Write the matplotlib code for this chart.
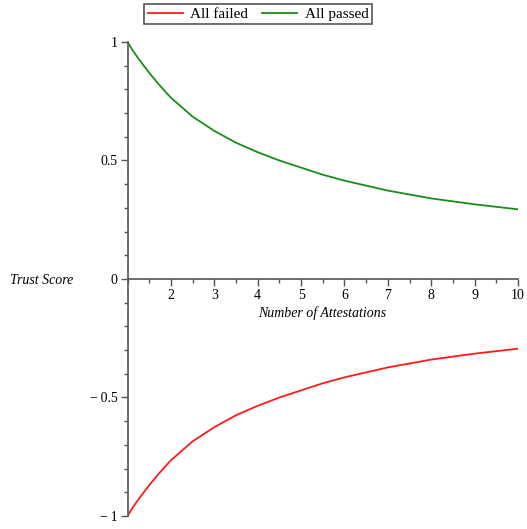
import numpy as np
import matplotlib.pyplot as plt
from matplotlib.ticker import MultipleLocator

# values
n_attest = [1, 1.1, 1.25, 1.5, 1.75, 2, 2.5, 3, 3.5, 4, 4.5, 5, 5.5, 6, 7, 8, 9, 10]
all_passed = [1.0, 0.97, 0.93, 0.87, 0.815, 0.765, 0.685, 0.625, 0.575, 0.535, 0.5, 0.47,
              0.44, 0.415, 0.373, 0.34, 0.315, 0.294]
all_failed = [-1.0, -0.97, -0.93, -0.87, -0.815, -0.765, -0.685, -0.625, -0.575, -0.535, -0.5,
              -0.47, -0.44, -0.415, -0.373, -0.34, -0.315, -0.294]

plt.rcParams['font.family'] = ['Liberation Serif', 'DejaVu Serif']

fig = plt.figure(figsize=(5.27, 5.29), dpi=100)
ax = fig.add_axes([0.242, 0.0246, 0.741, 0.896])

ax.plot(n_attest, all_failed, color='#ff1a1a', linewidth=1.3, label='All failed')
ax.plot(n_attest, all_passed, color='#1a8c1a', linewidth=1.3, label='All passed')

ax.set_xlim(1, 10)
ax.set_ylim(-1, 1)

# axes cross at (1, 0) like the original
ax.spines['left'].set_position(('data', 1))
ax.spines['bottom'].set_position(('data', 0))
ax.spines['top'].set_visible(False)
ax.spines['right'].set_visible(False)
for s in ['left', 'bottom']:
    ax.spines[s].set_color('#555555')
    ax.spines[s].set_linewidth(1.2)

ax.set_xticks(range(2, 11))
ax.xaxis.set_minor_locator(MultipleLocator(0.5))
ax.set_yticks([-1, -0.5, 0, 0.5, 1])
ax.set_yticklabels(['\u2212\u20091', '\u2212\u20090.5', '0', '0.5', '1'])
ax.yaxis.set_minor_locator(MultipleLocator(0.1))
ax.tick_params(which='major', length=5, width=1, color='#555555', labelsize=10, pad=2)
ax.tick_params(which='minor', length=3, width=1, color='#555555')

fig.text(0.019, 1 - 280 / 529, 'Trust Score', fontsize=10, style='italic',
         va='center', ha='left')
fig.text(322 / 527, 1 - 313 / 529, 'Number of Attestations', fontsize=10,
         style='italic', va='center', ha='center')

leg = fig.legend(loc='center', bbox_to_anchor=(258 / 527, 1 - 14 / 529), ncol=2,
                 fontsize=11, fancybox=False, framealpha=1, edgecolor='#555555',
                 handlelength=2.3, borderpad=0.2, columnspacing=0.9, handletextpad=0.5,
                 borderaxespad=0.3)
leg.get_frame().set_linewidth(1.2)

plt.savefig('out.png', dpi=100)
